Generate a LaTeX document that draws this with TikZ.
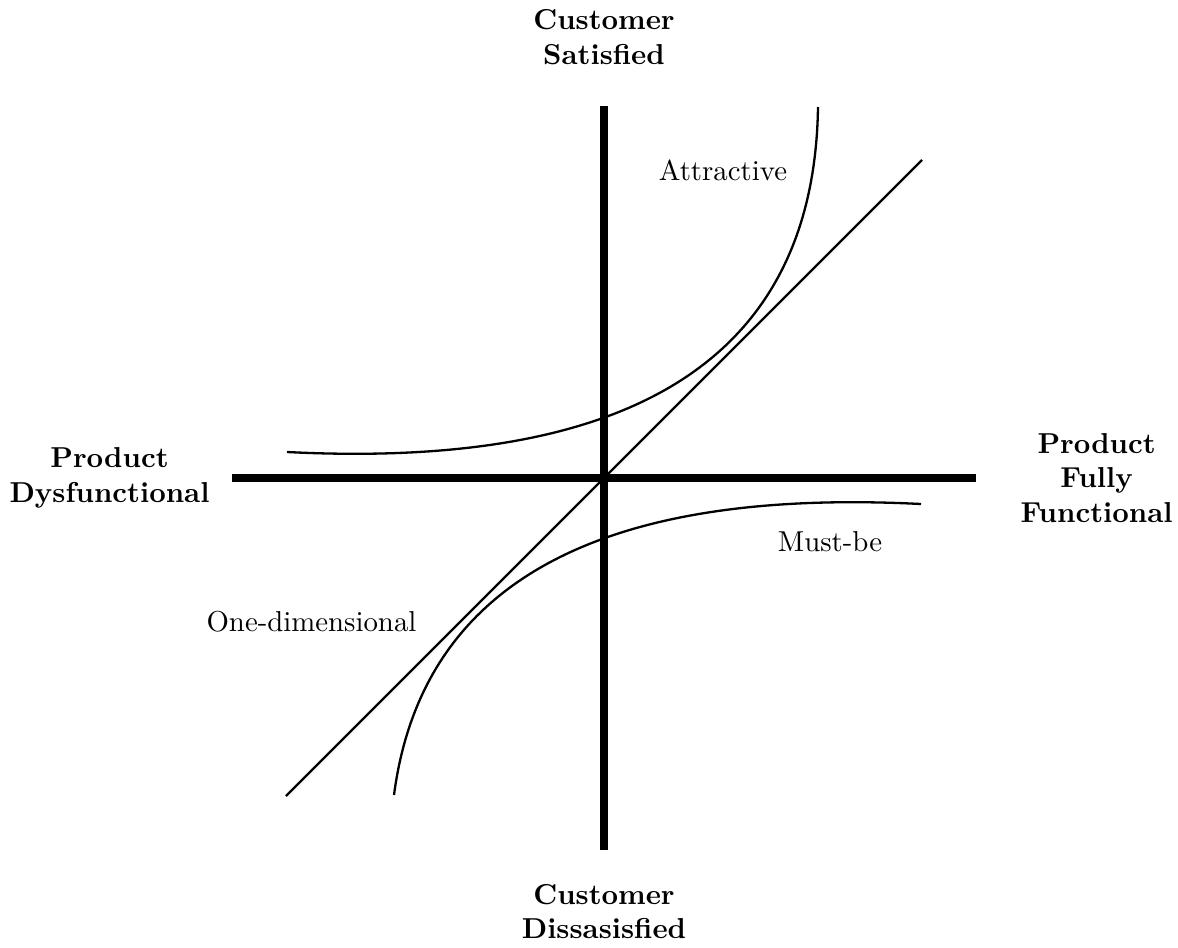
\documentclass[tikz,border=0pt]{standalone}
\usepackage{tikz}
\usetikzlibrary{positioning}

\begin{document}
\begin{tikzpicture}[
  x=1.22cm, y=1.22cm,
  axis/.style={line width=1mm},
  curve/.style={thick},
  axislabel/.style={align=center, font=\bfseries},
  curvelabel/.style={align=center}
]
\useasboundingbox (-6.04,-4.69) rectangle (5.74,4.78);

\coordinate (ytop) at (0,3.72);
\coordinate (ybot) at (0,-3.72);
\coordinate (xleft) at (-3.72,0);
\coordinate (xright) at (3.72,0);

\draw[axis] (xleft) -- (xright);
\draw[axis] (ybot) -- (ytop);

\node[axislabel, above=0.38cm of ytop] (satisfied) {Customer\\Satisfied};
\node[axislabel, below=0.29cm of ybot] (dissatisfied) {Customer\\Dissasisfied};
\node[axislabel, left=0.15cm of xleft] (dysfunctional) {Product\\Dysfunctional};
\node[axislabel, right=0.42cm of xright] (functional) {Product\\Fully\\Functional};

% one-dimensional
\draw[curve] (-3.18,-3.18) -- (3.18,3.18);
% attractive
\draw[curve] (-3.17,0.26) .. controls (0,0.10) and (2.10,1.00) .. (2.14,3.71);
% must-be
\draw[curve] (3.17,-0.26) .. controls (0.22,-0.11) and (-1.80,-0.88) .. (-2.10,-3.17);

\node[curvelabel] (attractive) at (1.19,3.08) {Attractive};
\node[curvelabel] (mustbe) at (2.26,-0.64) {Must-be};
\node[curvelabel] (onedim) at (-2.925,-1.44) {One-dimensional};
\end{tikzpicture}
\end{document}
